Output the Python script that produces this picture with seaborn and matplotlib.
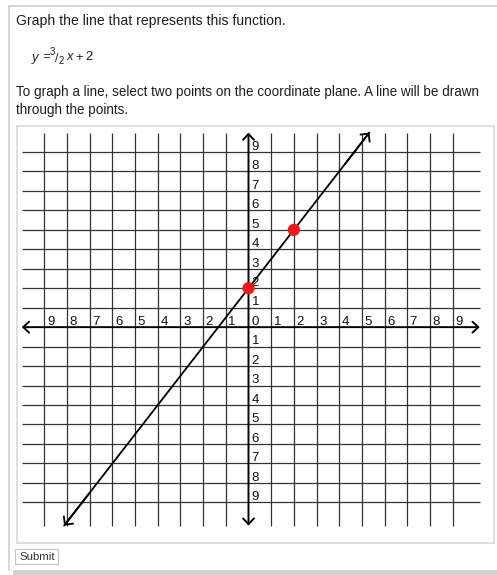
import matplotlib
matplotlib.use("Agg")
import matplotlib.pyplot as plt
from matplotlib.patches import Rectangle
from matplotlib.lines import Line2D
import numpy as np
import pandas as pd
import seaborn as sns

# ---- data -------------------------------------------------------------
slope_num = 3
slope_den = 2
intercept = 2
chosen_x = [0, 2]                      # the two selected points
tick_values = list(range(-9, 10))      # grid / label positions
x_extent = [-10.0, 10.2]               # drawn span of the x axis
y_extent = [-10.2, 10.0]               # drawn span of the y axis

prompt_title = "Graph the line that represents this function."
prompt_body = ["To graph a line, select two points on the coordinate plane. A line will be drawn",
               "through the points."]
button_label = "Submit"

# ---- figure -----------------------------------------------------------
W, H = 497, 575
sns.set_theme(style="white")
plt.rcParams["font.family"] = ["Liberation Sans", "DejaVu Sans"]

fig = plt.figure(figsize=(W / 100, H / 100), dpi=100)
fig.patch.set_facecolor("white")


def fx(px):
    return px / W


def fy(py):
    return 1 - py / H


# card frame
fig.add_artist(Line2D([fx(8.8), fx(W)], [fy(5.5), fy(5.5)], color="#d6d6d6", lw=1.4))
fig.add_artist(Line2D([fx(8.8), fx(8.8)], [fy(5.5), fy(570)], color="#d6d6d6", lw=1.4))
fig.add_artist(Rectangle((fx(12.5), fy(H)), fx(W) - fx(12.5), fy(569.5) - fy(H),
                         facecolor="#d2d2d2", edgecolor="none"))

# prompt text
txt = "#1e1e1e"
fs = 10.1
fs_body = 9.75
fig.text(fx(15.5), fy(25), prompt_title, fontsize=fs, color=txt, va="baseline")
fig.text(fx(15.5), fy(96), prompt_body[0], fontsize=fs_body, color=txt, va="baseline")
fig.text(fx(15.5), fy(114), prompt_body[1], fontsize=fs_body, color=txt, va="baseline")

# equation y = 3/2 x + 2
fe = 9.4
fig.text(fx(32.0), fy(60.5), "y", fontsize=fe, style="italic", color=txt, va="baseline")
fig.text(fx(42.5), fy(60.5), "=", fontsize=fe, color=txt, va="baseline")
fig.text(fx(49.6), fy(55), str(slope_num), fontsize=7.0, color=txt, va="baseline")
fig.text(fx(54.6), fy(61.5), "/", fontsize=8.6, color=txt, va="baseline")
fig.text(fx(58.8), fy(64), str(slope_den), fontsize=7.0, color=txt, va="baseline")
fig.text(fx(67.0), fy(60.5), "x", fontsize=fe, style="italic", color=txt, va="baseline")
fig.text(fx(75.5), fy(60.5), "+", fontsize=fe, color=txt, va="baseline")
fig.text(fx(85.0), fy(60.5), str(intercept), fontsize=fe, color=txt, va="baseline")

# submit button
fig.add_artist(Rectangle((fx(15), fy(564)), fx(58.5) - fx(15), fy(549) - fy(564),
                         facecolor="white", edgecolor="#c6c6c6", lw=0.9))
fig.text(fx(36.8), fy(556.5), button_label, fontsize=8.2, color="#333333",
         ha="center", va="center")

# ---- coordinate plane -------------------------------------------------
box_l, box_r, box_t, box_b = 16.7, 494.0, 126.0, 542.7
x0_px, x_unit = 248.5, 22.67
y0_px, y_unit = 327.15, 19.46

ax = fig.add_axes([fx(box_l), fy(box_b), fx(box_r) - fx(box_l), fy(box_t) - fy(box_b)])
ax.set_xlim((box_l - x0_px) / x_unit, (box_r - x0_px) / x_unit)
ax.set_ylim((y0_px - box_b) / y_unit, (y0_px - box_t) / y_unit)
ax.set_xticks([])
ax.set_yticks([])
for sp in ax.spines.values():
    sp.set_color("#d9d9d9")
    sp.set_linewidth(1.2)

grid_col = "#333333"
inner = [t for t in tick_values if t != 0]
ax.vlines(inner, y_extent[0], y_extent[1], color=grid_col, lw=0.9, zorder=1)
ax.hlines(inner, x_extent[0], x_extent[1], color=grid_col, lw=0.9, zorder=1)

arrow_style = "<->,head_length=0.3,head_width=0.28"
ax.annotate("", xy=(x_extent[1], 0), xytext=(x_extent[0], 0),
            arrowprops=dict(arrowstyle=arrow_style, lw=1.4, color="black",
                            shrinkA=0, shrinkB=0, mutation_scale=14), zorder=3)
ax.annotate("", xy=(0, y_extent[1]), xytext=(0, y_extent[0]),
            arrowprops=dict(arrowstyle=arrow_style, lw=1.4, color="black",
                            shrinkA=0, shrinkB=0, mutation_scale=14), zorder=3)

# axis numbers (magnitudes only, set just off each grid line)
lab_fs = 9.5
for t in tick_values:
    if t == 0:
        ax.annotate("0", xy=(0, 0), xytext=(3, 2), textcoords="offset pixels",
                    fontsize=lab_fs, color="#111111", ha="left", va="baseline")
        continue
    ax.annotate(str(abs(t)), xy=(t, 0), xytext=(2.5, 2), textcoords="offset pixels",
                fontsize=lab_fs, color="#111111", ha="left", va="baseline")
    ax.annotate(str(abs(t)), xy=(0, t), xytext=(3, 2.2), textcoords="offset pixels",
                fontsize=lab_fs, color="#111111", ha="left", va="baseline")

# the graphed line, running to the edge of the plane
slope = slope_num / slope_den
line_x = [(y_extent[0] - intercept) / slope, (y_extent[1] - intercept) / slope]
line_df = pd.DataFrame({"x": line_x, "y": [slope * v + intercept for v in line_x]})
sns.lineplot(data=line_df, x="x", y="y", color="black", lw=1.3, ax=ax,
             sort=False, zorder=4)

head_style = "->,head_length=0.3,head_width=0.3"
for end, start in [(0, 1), (1, 0)]:
    tip = (line_df.x[end], line_df.y[end])
    back = (line_df.x[end] + 0.08 * (line_df.x[start] - line_df.x[end]),
            line_df.y[end] + 0.08 * (line_df.y[start] - line_df.y[end]))
    ax.annotate("", xy=tip, xytext=back,
                arrowprops=dict(arrowstyle=head_style, lw=1.3, color="black",
                                shrinkA=0, shrinkB=0, mutation_scale=14), zorder=4)

pts = pd.DataFrame({"x": chosen_x, "y": [slope * v + intercept for v in chosen_x]})
sns.scatterplot(data=pts, x="x", y="y", s=78, color="#ee1b1b", edgecolor="none",
                ax=ax, zorder=5)

ax.set_xlabel("")
ax.set_ylabel("")

fig.savefig("out.png", dpi=100)
